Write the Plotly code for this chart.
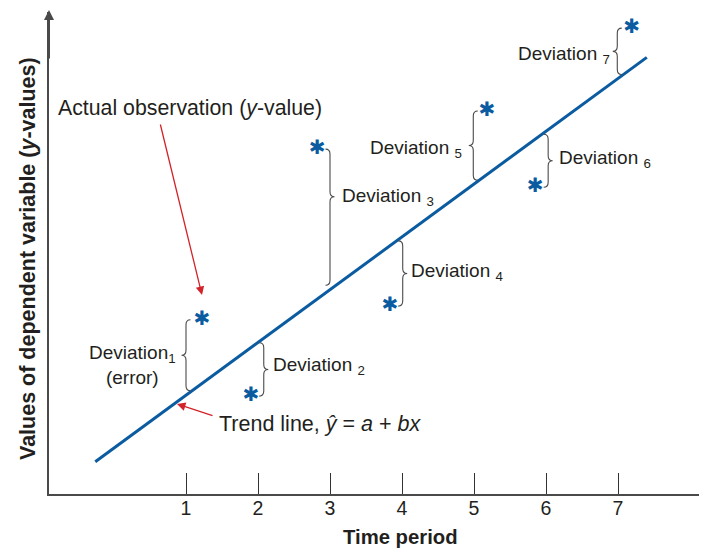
import plotly.graph_objects as go

# ---------------- data ----------------
periods = [1, 2, 3, 4, 5, 6, 7]
tick_labels = ["1", "2", "3", "4", "5", "6", "7"]

# observed values (star markers)
obs_x = [1.22, 1.90, 2.82, 3.83, 5.18, 5.85, 7.19]
obs_y = [2.42, 1.36, 4.79, 2.61, 5.32, 4.26, 6.47]

# trend line y = a + b x
trend_a = 0.6375
trend_b = 0.7333
trend_x = [-0.26, 7.40]

# deviation braces
brace_x = [1.0, 2.08, 3.0, 4.01, 4.99, 6.03, 6.99]
brace_tip = [-1, 1, 1, 1, -1, 1, -1]          # -1: tip points left, 1: right
brace_tip_frac = [0.5, 0.5, 0.35, 0.5, 0.5, 0.5, 0.5]
dev_labels = ["Deviation<sub>1</sub><br>(error)", "Deviation <sub>2</sub>",
              "Deviation <sub>3</sub>", "Deviation <sub>4</sub>",
              "Deviation <sub>5</sub>", "Deviation <sub>6</sub>",
              "Deviation <sub>7</sub>"]

# ---------------- layout geometry ----------------
OFF = 8                        # page body margin
W, H = 707 - OFF, 549 - OFF    # figure size
PX = 72.0                      # pixels per data unit (both axes)
x_left_px, x_origin_px = 49 - OFF, 114 - OFF
y_axis_px, y_top_px = 494 - OFF, 12 - OFF

x_range = [(x_left_px - x_origin_px) / PX, (W - x_origin_px) / PX]
y_range = [0, (y_axis_px - y_top_px) / PX]

BLUE = "#0a5ba0"
RED = "#d2232a"
GREY = "#4a4a4a"
TXT = "#231f20"
FONT = "Liberation Sans, Arial, sans-serif"


def px(x):        # window pixel -> paper x
    return (x - OFF) / W


def py(y):        # window pixel -> paper y
    return 1 - (y - OFF) / H


def trend(x):
    return trend_a + trend_b * x


fig = go.Figure()

# trend line
fig.add_trace(go.Scatter(
    x=trend_x, y=[trend(v) for v in trend_x], mode="lines",
    line=dict(color=BLUE, width=3), hoverinfo="skip", showlegend=False))

# observations
fig.add_trace(go.Scatter(
    x=obs_x, y=obs_y, mode="text", text=["\u2731"] * len(obs_x),
    textposition="middle center",
    textfont=dict(family="DejaVu Sans", size=20, color=BLUE),
    cliponaxis=False, hoverinfo="skip", showlegend=False))


def brace_path(xc, y_a, y_b, frac, d, w_px=4.5, r_px=5.0):
    w = w_px / PX
    r = r_px / PX
    top, bot = max(y_a, y_b), min(y_a, y_b)
    yt = top - frac * (top - bot)
    e = xc - d * w
    t = xc + d * w
    return (f"M {e},{top} Q {xc},{top} {xc},{top - r} "
            f"L {xc},{yt + r} Q {xc},{yt} {t},{yt} "
            f"Q {xc},{yt} {xc},{yt - r} "
            f"L {xc},{bot + r} Q {xc},{bot} {e},{bot}"), yt


gap = 4.5 / PX
label_xshift = [-5, 4, 6, 3, -6, 5, -2]
label_yshift = [-10, 3, 0, 1, -3, 2, -4]
for i, bx in enumerate(brace_x):
    y_line = trend(bx)
    y_obs = obs_y[i]
    y_line_end = y_line + gap if y_obs > y_line else y_line - gap
    path, ytip = brace_path(bx, y_obs, y_line_end, brace_tip_frac[i], brace_tip[i])
    fig.add_shape(type="path", path=path, xref="x", yref="y",
                  line=dict(color=GREY, width=1.1))
    d = brace_tip[i]
    fig.add_annotation(
        x=bx + d * 4.5 / PX, y=ytip, xref="x", yref="y", text=dev_labels[i],
        showarrow=False, xanchor="left" if d > 0 else "right", yanchor="middle",
        xshift=label_xshift[i], yshift=label_yshift[i], align="center",
        font=dict(family=FONT, size=19, color=TXT), borderpad=0)

# annotation: actual observation
fig.add_annotation(
    x=px(56), y=py(108), xref="paper", yref="paper",
    text="Actual observation (<i>y</i>-value)", showarrow=False,
    xanchor="left", yanchor="middle",
    font=dict(family=FONT, size=21.3, color=TXT))
fig.add_annotation(
    x=px(202), y=py(295), xref="paper", yref="paper",
    ax=160 - 202, ay=123 - 295,
    text="", showarrow=True, arrowhead=2, arrowsize=1.3, arrowwidth=1.3,
    arrowcolor=RED)

# annotation: trend line
fig.add_annotation(
    x=px(217), y=py(424), xref="paper", yref="paper",
    text="Trend line, <i>ŷ</i> = <i>a</i> + <i>bx</i>", showarrow=False,
    xanchor="left", yanchor="middle",
    font=dict(family=FONT, size=21.5, color=TXT))
fig.add_annotation(
    x=px(177), y=py(404), xref="paper", yref="paper",
    ax=214 - 177, ay=416 - 404,
    text="", showarrow=True, arrowhead=2, arrowsize=1.3, arrowwidth=1.3,
    arrowcolor=RED)

# axis arrowhead
fig.add_annotation(
    x=px(49), y=py(10), xref="paper", yref="paper",
    ax=0, ay=50,
    text="", showarrow=True, arrowhead=2, arrowsize=1, arrowwidth=2,
    arrowcolor=GREY)

# axis titles
fig.add_annotation(
    x=px(28), y=py(259), xref="paper", yref="paper",
    text="<b>Values of dependent variable (<i>y</i>-values)</b>",
    showarrow=False, textangle=-90, xanchor="center", yanchor="middle",
    font=dict(family=FONT, size=21.5, color=TXT))
fig.add_annotation(
    x=px(400), y=py(537), xref="paper", yref="paper",
    text="<b>Time period</b>", showarrow=False,
    xanchor="center", yanchor="middle",
    font=dict(family=FONT, size=20.3, color=TXT))

fig.update_layout(
    width=W, height=H, margin=dict(l=0, r=0, t=0, b=0),
    paper_bgcolor="white", plot_bgcolor="white", showlegend=False,
    xaxis=dict(domain=[x_left_px / W, 1], range=x_range, showgrid=False,
               zeroline=False, showline=True, linecolor=GREY, linewidth=2,
               tickmode="array", tickvals=periods, ticktext=tick_labels,
               ticks="inside", ticklen=21, tickwidth=1.3, tickcolor="#333",
               ticklabelstandoff=-4,
               tickfont=dict(family=FONT, size=19.5, color=TXT)),
    yaxis=dict(domain=[1 - y_axis_px / H, 1 - y_top_px / H], range=y_range,
               showgrid=False, zeroline=False, showline=True, linecolor=GREY,
               linewidth=2, showticklabels=False, ticks=""),
)

fig.write_html("out.html")
